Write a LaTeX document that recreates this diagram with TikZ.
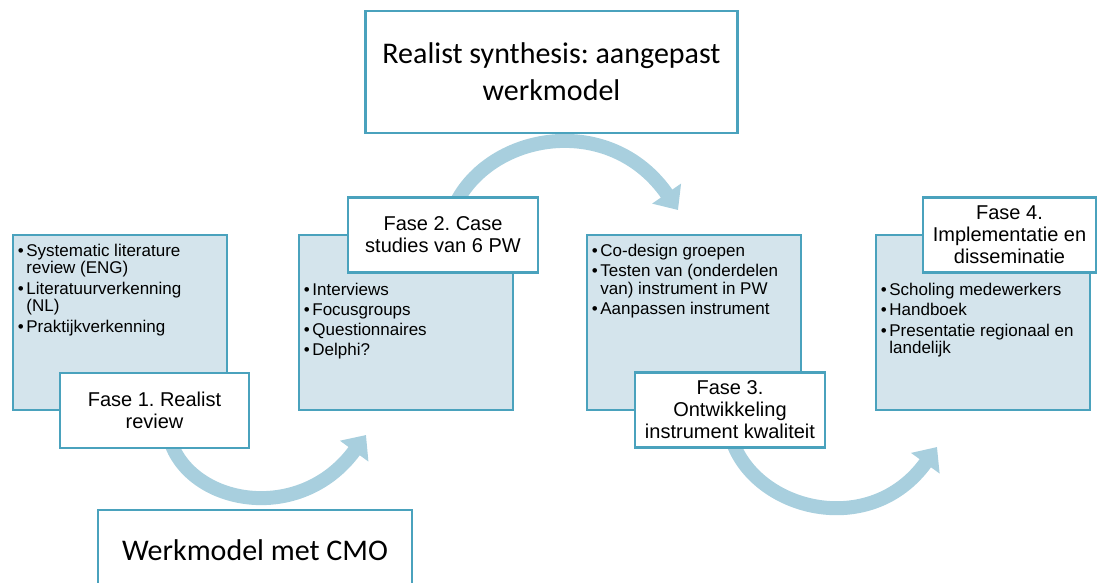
\documentclass[tikz,border=0pt]{standalone}
\usepackage{fontspec}
\setmainfont{Liberation Sans}
\newfontfamily\carlitofont{Carlito}
\usetikzlibrary{arrows.meta,backgrounds}
\definecolor{bord}{HTML}{4AA2BD}
\definecolor{lblue}{HTML}{D4E4EC}
\definecolor{arr}{HTML}{A8CFDE}
\frenchspacing
\newcommand\bul{\textbullet\hspace{2.5pt}}
\newcommand\myind{\hphantom{\textbullet\hspace{2.5pt}}}
\tikzset{
  bluebox/.style={draw=bord, line width=2.5pt, fill=lblue, minimum width=214pt, minimum height=175pt, inner sep=0pt},
  fasebox/.style={draw=bord, line width=2.5pt, fill=white, align=center, inner sep=0pt, font=\frenchspacing\fontsize{20}{22}\selectfont},
  bigbox/.style={draw=bord, line width=2.5pt, fill=white, align=center, inner sep=0pt, font=\frenchspacing\carlitofont\fontsize{30}{37}\selectfont},
  bullets/.style={align=left, inner sep=0pt, anchor=north west, font=\frenchspacing\fontsize{17}{17.5}\selectfont},
  flow/.style={draw=arr, line width=14pt, -{Triangle[length=20pt,width=34pt]}}
}
\begin{document}
\begin{tikzpicture}[x=1pt,y={(0pt,-1pt)}]
\useasboundingbox (0,0) rectangle (1104,582);
% top and bottom boxes
\node[bigbox, minimum width=372pt, minimum height=122pt] (top) at (551.5,72) {Realist synthesis: aangepast\\werkmodel};
\node[bigbox, minimum width=314pt, minimum height=80pt] (bot) at (255,550) {Werkmodel met CMO};
% phase boxes
\node[bluebox] (b1) at (120,322.5) {};
\node[bullets] (t1) at ([xshift=6pt,yshift=-10pt]b1.north west) {\bul Systematic literature\\\myind review (ENG)\\[3pt]\bul Literatuurverkenning\\\myind (NL)\\[3pt]\bul Praktijkverkenning};
\node[fasebox, minimum width=189pt, minimum height=75pt] (f1) at (154.5,410.5) {Fase 1. Realist\\review};

\node[bluebox] (b2) at (406,322.5) {};
\node[bullets] (t2) at ([xshift=6pt,yshift=-49pt]b2.north west) {\bul Interviews\\[2.5pt]\bul Focusgroups\\[2.5pt]\bul Questionnaires\\[2.5pt]\bul Delphi?};
\node[fasebox, minimum width=190pt, minimum height=75pt] (f2) at (443,235) {Fase 2. Case\\studies van 6 PW};

\node[bluebox] (b3) at (694,322.5) {};
\node[bullets] (t3) at ([xshift=6pt,yshift=-10pt]b3.north west) {\bul Co-design groepen\\[3pt]\bul Testen van (onderdelen\\\myind van) instrument in PW\\[3pt]\bul Aanpassen instrument};
\node[fasebox, minimum width=190pt, minimum height=75pt] (f3) at (730,410) {Fase 3.\\Ontwikkeling\\instrument kwaliteit};

\node[bluebox] (b4) at (983,322.5) {};
\node[bullets] (t4) at ([xshift=6pt,yshift=-49pt]b4.north west) {\bul Scholing medewerkers\\[3pt]\bul Handboek\\[3pt]\bul Presentatie regionaal en\\\myind landelijk};
\node[fasebox, minimum width=173pt, minimum height=75pt] (f4) at (1009.5,235) {Fase 4.\\Implementatie en\\disseminatie};
% arrows
\coordinate (a1s) at (170,440);
\coordinate (a1e) at (366,435);
\coordinate (a2s) at (455,205);
\coordinate (a2e) at (678,210);
\coordinate (a3s) at (732,440);
\coordinate (a3e) at (937,447);
\begin{scope}[on background layer]
\draw[flow] (a1s) .. controls (190,505) and (300,525) .. (a1e);
\draw[flow] (a2s) .. controls (490,132) and (610,112) .. (a2e);
\draw[flow] (a3s) .. controls (755,510) and (870,540) .. (a3e);
\end{scope}
\end{tikzpicture}
\end{document}
